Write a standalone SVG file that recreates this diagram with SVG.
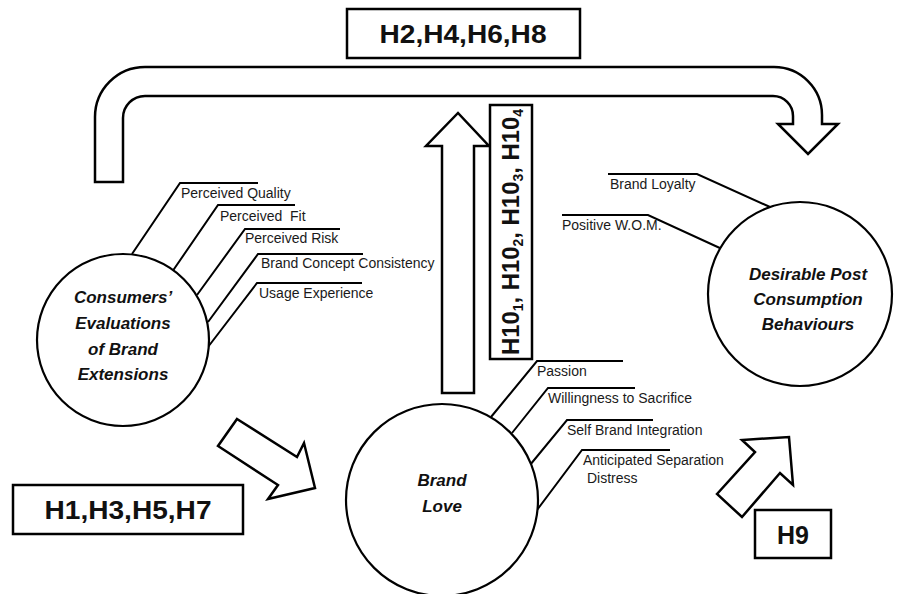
<svg xmlns="http://www.w3.org/2000/svg" width="907" height="594" viewBox="0 0 907 594">
<style>
.ln{fill:none;stroke:#000;stroke-width:2}
.shape{fill:#fff;stroke:#000;stroke-width:2.5;stroke-linejoin:miter}
.circ{fill:#fff;stroke:#000;stroke-width:2.2}
.box{fill:#fff;stroke:#000;stroke-width:2.5}
.lbl{font-family:"Liberation Sans",Arial,sans-serif;font-size:14px;fill:#1a1a1a;white-space:pre}
.ttl{font-family:"Liberation Sans",Arial,sans-serif;font-weight:bold;font-style:italic;font-size:17px;text-anchor:middle;fill:#111}
.hyp{font-family:"Liberation Sans",Arial,sans-serif;font-weight:bold;font-size:25px;text-anchor:middle;fill:#111}
</style>
<rect width="907" height="594" fill="#fff"/>

<g id="connectors">
  <path id="u-arrow" class="shape" d="M95,182 V117 A50,50 0 0 1 145,67 H774 A48,48 0 0 1 822,115 V124 H838 L808,154 L778,124 H793 V116 A20,20 0 0 0 773,96 H145 A22,22 0 0 0 123,118 V182 Z"/>
  <polygon id="arrow-h1" class="shape" points="237,419 297,457 304,443 315,488 268,499 278,485 218,446"/>
  <polygon id="arrow-h10" class="shape" points="442,393 442,146 426,146 458,113 489,146 474,146 474,393"/>
  <polygon id="arrow-h9" class="shape" points="717,494 755,452 742,440 789,437 793,485 780,473 742,517"/>
</g>

<g id="box-h2">
  <rect class="box" x="347" y="9" width="233" height="49"/>
  <text class="hyp" x="463" y="43" textLength="167" lengthAdjust="spacingAndGlyphs">H2,H4,H6,H8</text>
</g>

<g id="box-h1">
  <rect class="box" x="13" y="485" width="230" height="49"/>
  <text class="hyp" x="128" y="519" textLength="167" lengthAdjust="spacingAndGlyphs">H1,H3,H5,H7</text>
</g>

<g id="box-h9">
  <rect class="box" x="755" y="510" width="76" height="48"/>
  <text class="hyp" x="793" y="544">H9</text>
</g>

<g id="box-h10">
  <rect class="box" x="490" y="105" width="42" height="254"/>
  <text transform="translate(519,355) rotate(-90)" font-family="Liberation Sans, Arial, sans-serif" font-weight="bold" font-size="24" fill="#111" textLength="246" lengthAdjust="spacingAndGlyphs">H10<tspan font-size="14" dy="4">1</tspan><tspan dy="-4">, H10</tspan><tspan font-size="14" dy="4">2</tspan><tspan dy="-4">, H10</tspan><tspan font-size="14" dy="4">3</tspan><tspan dy="-4">, H10</tspan><tspan font-size="14" dy="4">4</tspan></text>
</g>

<g id="node-consumers">
  <polyline class="ln" points="132,254 180,183 258,183"/>
  <polyline class="ln" points="172,272 218,205 295,205"/>
  <polyline class="ln" points="197,295 245,229 340,229"/>
  <polyline class="ln" points="208,322 258,254 363,254"/>
  <polyline class="ln" points="208,347 257,283 362,283"/>
  <circle class="circ" cx="123" cy="340" r="86"/>
  <text class="ttl" x="123" y="303">Consumers’</text>
  <text class="ttl" x="123" y="329">Evaluations</text>
  <text class="ttl" x="123" y="355">of Brand</text>
  <text class="ttl" x="123" y="380">Extensions</text>
  <text class="lbl" x="181" y="198">Perceived Quality</text>
  <text class="lbl" x="220" y="221">Perceived  Fit</text>
  <text class="lbl" x="245" y="243">Perceived Risk</text>
  <text class="lbl" x="261" y="268">Brand Concept Consistency</text>
  <text class="lbl" x="259" y="298">Usage Experience</text>
</g>

<g id="node-brandlove">
  <polyline class="ln" points="491,417 537,361 623,361"/>
  <polyline class="ln" points="512,433 548,388 635,388"/>
  <polyline class="ln" points="530,465 567,420 653,420"/>
  <polyline class="ln" points="537,510 582,450 670,450"/>
  <circle class="circ" cx="442" cy="500" r="96"/>
  <text class="ttl" x="442" y="486" font-size="18">Brand</text>
  <text class="ttl" x="442" y="512" font-size="18">Love</text>
  <text class="lbl" x="537" y="376">Passion</text>
  <text class="lbl" x="548" y="403">Willingness to Sacrifice</text>
  <text class="lbl" x="567" y="435">Self Brand Integration</text>
  <text class="lbl" x="583" y="465">Anticipated Separation</text>
  <text class="lbl" x="587" y="483">Distress</text>
</g>

<g id="node-desirable">
  <polyline class="ln" points="608,174 697,174 770,207"/>
  <polyline class="ln" points="562,215 648,215 722,249"/>
  <circle class="circ" cx="800" cy="294" r="92"/>
  <text class="ttl" x="808" y="280">Desirable Post</text>
  <text class="ttl" x="808" y="305">Consumption</text>
  <text class="ttl" x="808" y="330">Behaviours</text>
  <text class="lbl" x="610" y="189">Brand Loyalty</text>
  <text class="lbl" x="562" y="230">Positive W.O.M.</text>
</g>
</svg>
